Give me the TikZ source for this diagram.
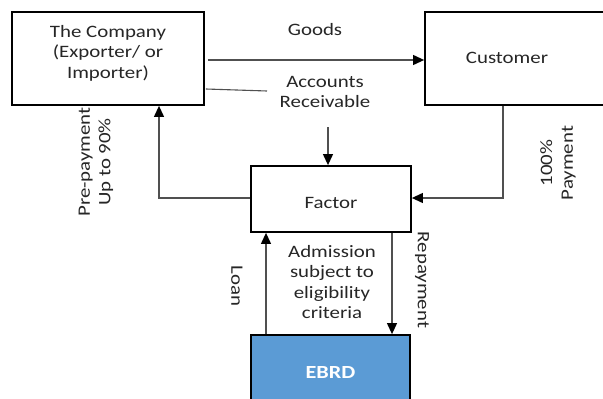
\documentclass[tikz,border=0pt]{standalone}
\usepackage{fontspec}
\setmainfont[FakeStretch=1.2]{Carlito}
\usetikzlibrary{arrows.meta}
\definecolor{ebrdblue}{HTML}{5B9BD5}
\definecolor{lnc}{HTML}{505050}
\begin{document}
\begin{tikzpicture}[x=1pt,y=-1pt,
  box/.style={draw=black,line width=1.8pt,inner sep=0pt},
  lbl/.style={font=\fontsize{17.4}{20.6}\selectfont,align=center,inner sep=0pt,text=black!85},
  conn/.style={draw=lnc,line width=1.1pt},
  arr/.style={conn,-{Triangle[length=11pt,width=10pt,color=black]}}]
\useasboundingbox (0,0) rectangle (603,399);
\fill[white] (0,0) rectangle (603,399);
% boxes
\node[box,minimum width=192pt,minimum height=93pt] (company) at (108,58.5) {};
\node[lbl] (companyt) at (108,53) {The Company\\(Exporter/ or\\Importer)};
\node[box,minimum width=190pt,minimum height=93pt] (customer) at (520,58.5) {};
\node[lbl] (customert) at (507,58) {Customer};
\node[box,minimum width=160pt,minimum height=66pt] (factor) at (331,199) {};
\node[lbl] (factort) at (331,203) {Factor};
\node[box,fill=ebrdblue,minimum width=159pt,minimum height=75pt] (ebrd) at (330.5,372.5) {};
\node[lbl,text=white,font=\fontsize{18.5}{20.5}\selectfont\bfseries] (ebrdt) at (330.5,372) {EBRD};
% coordinates
\coordinate (gy) at (0,60);
\coordinate (ary) at (0,89);
\coordinate (arend) at (267,91);
\coordinate (arx) at (328,127);
\coordinate (ppx) at (159,198);
\coordinate (pay) at (503,198);
\coordinate (loanx) at (266,0);
\coordinate (repx) at (392,0);
% connectors
\draw[arr] ([xshift=3pt]company.east |- gy) -- (customer.west |- gy);
\draw[conn] ([xshift=1pt]company.east |- ary) -- (arend);
\draw[arr] (arx) -- (factor.north -| arx);
\draw[arr] (factor.west |- ppx) -- (ppx) -- (company.south -| ppx);
\draw[arr] (customer.south -| pay) -- (pay) -- (factor.east |- pay);
\draw[arr] (ebrd.north -| loanx) -- (factor.south -| loanx);
\draw[arr] (factor.south -| repx) -- (ebrd.north -| repx);
% labels
\node[lbl] (goods) at (315,30) {Goods};
\node[lbl] (accrec) at (325,92) {Accounts\\Receivable};
\node[lbl,rotate=90] (prepay) at (96,162) {Pre-payment\\Up to 90\%};
\node[lbl,rotate=90] (payment) at (558,163) {100\%\\Payment};
\node[lbl,rotate=-90] (loan) at (237,286) {Loan};
\node[lbl,rotate=-90] (repay) at (422,280) {Repayment};
\node[lbl] (admission) at (332,282) {Admission\\subject to\\eligibility\\criteria};
\end{tikzpicture}
\end{document}
